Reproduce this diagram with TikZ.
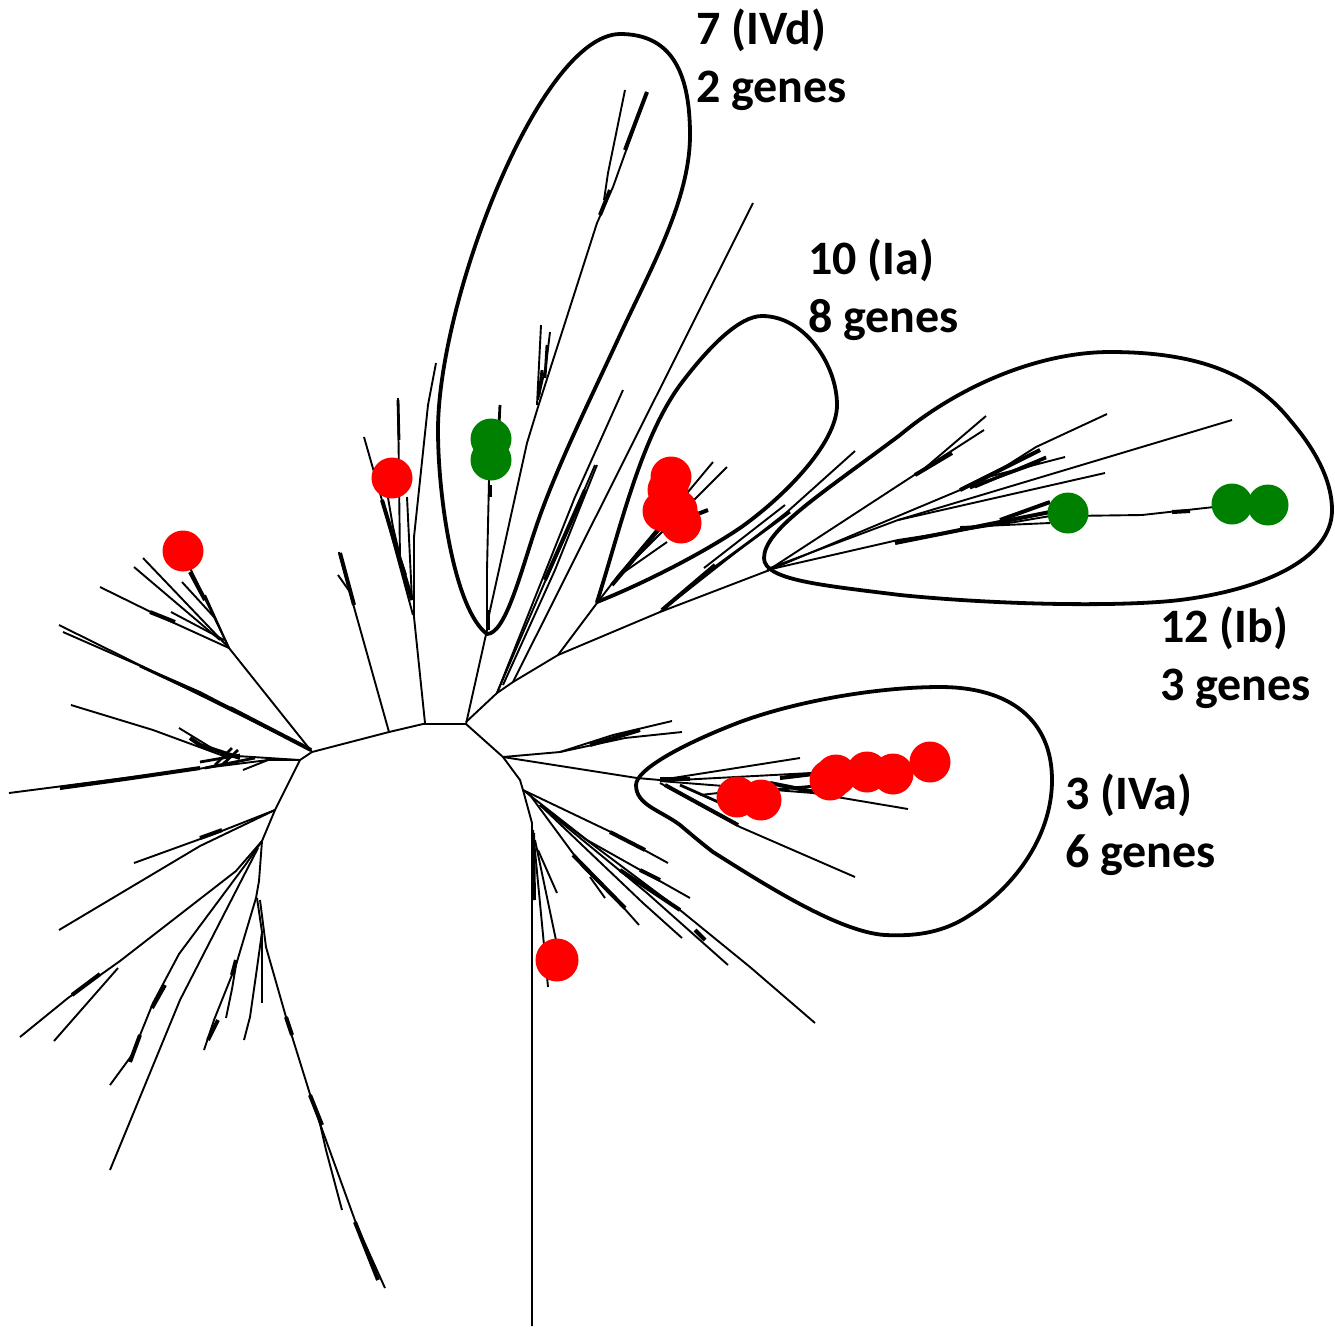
\documentclass[tikz,border=0pt]{standalone}
\usepackage{fontspec}
\setmainfont{Carlito}
\definecolor{dotgreen}{RGB}{0,128,0}
\definecolor{dotred}{RGB}{255,0,0}
\tikzset{
  tree/.style={draw=black,line width=1.9pt},
  thk/.style={draw=black,line width=4pt},
  mid/.style={draw=black,line width=2.8pt},
  lasso/.style={draw=black,line width=3.8pt,line join=round},
  rdot/.style={circle,fill=dotred,draw=none,inner sep=0pt,minimum size=41pt},
  gdot/.style={circle,fill=dotgreen,draw=none,inner sep=0pt,minimum size=41pt},
  lab/.style={font=\fontsize{48}{58}\selectfont\bfseries,align=left,anchor=north west,inner sep=0pt}
}
\begin{document}
\begin{tikzpicture}[x=1pt,y=-1pt]
\useasboundingbox (0,0) rectangle (1335,1326);
% --- tree: backbone
\draw[tree] (243,770) -- (268,760) -- (300,760) -- (312,752) -- (389,732) -- (423,724) -- (466,724) -- (503,757) -- (520,780) -- (523,790);
\draw[tree] (300,760) -- (275,810) -- (262,841) -- (259,881) -- (256,898);
% --- lower left
\draw[tree] (275,810) -- (214,834) -- (134,863);
\draw[tree] (275,810) -- (200,846) -- (59,930);
\draw[thk] (222,830) -- (200,838);
\draw[tree] (262,841) -- (236,871) -- (120,961) -- (68,998) -- (20,1037);
\draw[thk] (100,974) -- (72,995);
\draw[tree] (118,968) -- (54,1041);
\draw[tree] (262,841) -- (246,864) -- (179,954) -- (153,1003) -- (132,1055) -- (110,1085);
\draw[thk] (165,985) -- (152,1008);
\draw[thk] (140,1035) -- (130,1062);
\draw[tree] (258,848) -- (180,1000) -- (110,1170);
\draw[tree] (256,898) -- (236,965) -- (214,1020) -- (204,1050);
\draw[tree] (236,965) -- (232,989) -- (226,1018);
\draw[thk] (236,960) -- (232,975);
\draw[thk] (218,1020) -- (208,1040);
\draw[tree] (257,898) -- (262,932) -- (257,968) -- (250,1017) -- (244,1040);
\draw[tree] (262,932) -- (262,1003);
\draw[tree] (260,900) -- (266,947) -- (286,1017) -- (314,1107) -- (357,1226) -- (385,1288);
\draw[tree] (318,1115) -- (326,1150) -- (342,1210);
\draw[thk] (286,1017) -- (292,1035);
\draw[thk] (310,1095) -- (322,1125);
\draw[thk] (355,1222) -- (378,1280);
% --- far left
\draw[tree] (300,760) -- (221,755) -- (153,730) -- (71,705);
\draw[thk] (240,758) -- (200,745) -- (190,738);
\draw[tree] (215,750) -- (179,728);
\draw[mid] (200,762) -- (240,755);
\draw[mid] (215,765) -- (232,748);
\draw[mid] (222,765) -- (238,750);
\draw[mid] (205,768) -- (255,758);
\draw[tree] (268,760) -- (125,778) -- (9,793);
\draw[thk] (200,768) -- (125,779) -- (60,788);
% --- up left, with the red dot
\draw[tree] (311,750) -- (59,625);
\draw[tree] (311,750) -- (200,692) -- (63,632);
\draw[thk] (311,750) -- (230,708);
\draw[mid] (230,708) -- (140,666);
\draw[tree] (312,752) -- (229,648) -- (214,617) -- (189,566);
\draw[thk] (205,600) -- (190,572);
\draw[tree] (214,617) -- (182,582);
\draw[tree] (229,648) -- (205,595);
\draw[tree] (229,648) -- (143,558);
\draw[tree] (220,640) -- (134,567);
\draw[tree] (229,648) -- (161,617) -- (100,587);
\draw[thk] (175,622) -- (150,612);
\draw[tree] (224,640) -- (171,612);
% --- up middle
\draw[tree] (389,732) -- (352,600) -- (339,552);
\draw[thk] (354,605) -- (340,553);
\draw[tree] (350,592) -- (338,575);
\draw[tree] (425,723) -- (414,617) -- (414,537) -- (428,405) -- (436,363);
\draw[mid] (414,610) -- (414,550);
\draw[tree] (413,615) -- (380,493) -- (364,437);
\draw[thk] (412,600) -- (382,500);
\draw[tree] (408,590) -- (393,527) -- (385,480);
\draw[tree] (400,560) -- (398,398);
\draw[mid] (399,440) -- (398,400);
\draw[tree] (412,600) -- (407,497);
\draw[thk] (405,575) -- (400,560);
% --- inside 7 (IVd)
\draw[tree] (466,724) -- (487,630) -- (487,570) -- (489,480);
\draw[thk] (488,630) -- (488,610);
\draw[thk] (490,485) -- (490,497);
\draw[mid] (500,405) -- (499,425);
\draw[tree] (489,615) -- (527,443) -- (538,407) -- (597,223) -- (613,187) -- (647,92);
\draw[thk] (600,215) -- (610,190);
\draw[thk] (625,150) -- (647,92);
\draw[tree] (604,200) -- (608,173) -- (625,90);
\draw[tree] (537,405) -- (541,325);
\draw[tree] (538,400) -- (546,365) -- (550,332);
\draw[mid] (545,378) -- (547,345);
\draw[mid] (539,395) -- (542,370);
% --- middle fans
\draw[tree] (466,722) -- (497,693) -- (513,682) -- (558,655) -- (660,612) -- (767,571);
\draw[tree] (497,693) -- (550,570) -- (595,465);
\draw[tree] (503,685) -- (555,570) -- (597,465);
\draw[thk] (545,580) -- (585,490);
\draw[tree] (497,693) -- (575,497) -- (623,390);
\draw[tree] (513,682) -- (753,203);
\draw[tree] (558,655) -- (597,603) -- (617,577) -- (713,462);
\draw[tree] (617,577) -- (727,467);
\draw[thk] (612,585) -- (660,528);
\draw[tree] (617,577) -- (667,542);
\draw[thk] (695,515) -- (708,510);
\draw[tree] (660,612) -- (787,512) -- (855,451);
\draw[thk] (662,610) -- (715,565);
\draw[mid] (700,578) -- (790,512);
\draw[tree] (704,568) -- (785,505);
% --- inside 12 (Ib)
\draw[tree] (767,571) -- (925,468) -- (986,416);
\draw[tree] (925,468) -- (984,430);
\draw[thk] (915,475) -- (952,453);
\draw[tree] (767,571) -- (984,480) -- (1036,447) -- (1107,414);
\draw[thk] (960,490) -- (1040,450);
\draw[mid] (970,488) -- (1046,458);
\draw[mid] (985,482) -- (1040,462);
\draw[tree] (984,478) -- (1065,457);
\draw[mid] (975,487) -- (1046,457);
\draw[tree] (770,568) -- (898,520) -- (1232,420);
\draw[tree] (898,520) -- (1105,473);
\draw[tree] (767,570) -- (898,540) -- (1015,522) -- (1068,513);
\draw[thk] (895,543) -- (1050,512);
\draw[thk] (1000,520) -- (1050,502);
\draw[tree] (960,527) -- (1050,523);
\draw[tree] (1068,516) -- (1142,515) -- (1232,505);
\draw[thk] (1172,512) -- (1190,511);
% --- right lower fans
\draw[tree] (503,757) -- (560,752) -- (613,735) -- (672,721);
\draw[tree] (560,752) -- (625,738) -- (682,732);
\draw[thk] (590,745) -- (640,730);
\draw[tree] (503,757) -- (637,778) -- (660,780);
\draw[tree] (660,780) -- (800,758);
\draw[thk] (660,779) -- (690,779);
\draw[tree] (660,781) -- (830,772);
\draw[thk] (780,778) -- (830,772);
\draw[tree] (660,781) -- (813,793) -- (908,809);
\draw[thk] (770,783) -- (830,795);
\draw[mid] (770,790) -- (815,786);
\draw[tree] (660,783) -- (740,827) -- (855,877);
\draw[thk] (665,785) -- (738,825);
\draw[mid] (680,785) -- (725,805);
\draw[tree] (700,795) -- (745,790);
% --- down from (523,790)
\draw[tree] (523,790) -- (532,823) -- (532,1326);
\draw[thk] (533,833) -- (534,900);
\draw[tree] (533,830) -- (548,987);
\draw[tree] (538,850) -- (557,893);
\draw[tree] (535,840) -- (557,945);
\draw[tree] (523,790) -- (613,833) -- (668,863);
\draw[thk] (610,832) -- (645,850);
\draw[tree] (523,790) -- (587,840) -- (690,898);
\draw[thk] (640,870) -- (660,880);
\draw[tree] (540,805) -- (680,910) -- (750,967) -- (815,1023);
\draw[thk] (620,870) -- (680,910);
\draw[tree] (540,805) -- (647,893) -- (728,965);
\draw[thk] (695,930) -- (705,940);
\draw[tree] (540,805) -- (643,903) -- (682,938);
\draw[tree] (530,795) -- (583,867) -- (623,907) -- (639,925);
\draw[thk] (573,855) -- (625,908);
\draw[tree] (590,877) -- (605,898);
% --- dots
\node[rdot] (d1) at (183,551) {};
\node[rdot] (d2) at (392,478) {};
\node[rdot,minimum size=43pt] (d3) at (557,960) {};
\node[gdot] (g1) at (491,439) {};
\node[gdot] (g2) at (491,460) {};
\node[rdot] (a1) at (671,477) {};
\node[rdot] (a2) at (668,490) {};
\node[rdot] (a3) at (663,511) {};
\node[rdot] (a4) at (677,510) {};
\node[rdot] (a5) at (681,523) {};
\node[rdot] (b1) at (737,797) {};
\node[rdot] (b2) at (761,800) {};
\node[rdot] (b3) at (836,775) {};
\node[rdot] (b4) at (830,780) {};
\node[rdot] (b5) at (867,772) {};
\node[rdot] (b6) at (893,774) {};
\node[rdot] (b7) at (930,762) {};
\node[gdot] (g3) at (1068,513) {};
\node[gdot] (g4) at (1232,504) {};
\node[gdot] (g5) at (1268,505) {};
% --- lassos
\draw[lasso] (487,634) .. controls (455,610) and (438,500) .. (438,430)
  .. controls (438,300) and (540,35) .. (620,34)
  .. controls (670,34) and (690,70) .. (690,135)
  .. controls (690,200) and (650,270) .. (620,335)
  .. controls (590,400) and (555,470) .. (535,530)
  .. controls (520,575) and (505,634) .. (487,634) -- cycle;
\draw[lasso] (597,602) .. controls (620,530) and (640,440) .. (680,385)
  .. controls (710,345) and (740,316) .. (762,316)
  .. controls (805,316) and (837,365) .. (837,405)
  .. controls (837,445) and (780,500) .. (740,528)
  .. controls (700,555) and (640,585) .. (597,602) -- cycle;
\draw[lasso] (764,558) .. controls (764,530) and (820,495) .. (900,435)
  .. controls (960,385) and (1040,352) .. (1110,352)
  .. controls (1190,352) and (1250,370) .. (1290,420)
  .. controls (1320,455) and (1332,485) .. (1332,510)
  .. controls (1332,560) and (1260,590) .. (1180,600)
  .. controls (1120,607) and (1000,605) .. (900,595)
  .. controls (820,585) and (764,580) .. (764,558) -- cycle;
\draw[lasso] (636,785) .. controls (636,770) and (680,745) .. (740,722)
  .. controls (800,700) and (880,687) .. (940,687)
  .. controls (1010,687) and (1052,720) .. (1052,780)
  .. controls (1052,840) and (1010,890) .. (970,915)
  .. controls (940,935) and (910,936) .. (885,935)
  .. controls (840,932) and (770,888) .. (713,852)
  .. controls (700,842) and (692,835) .. (680,825)
  .. controls (660,810) and (636,805) .. (636,785) -- cycle;
% --- labels
\node[lab] (l7) at (696,9) {7 (IVd)\\2 genes};
\node[lab] (l10) at (808,239) {10 (Ia)\\8 genes};
\node[lab] (l12) at (1160,607) {12 (Ib)\\3 genes};
\node[lab] (l3) at (1065,774) {3 (IVa)\\6 genes};
\end{tikzpicture}
\end{document}
